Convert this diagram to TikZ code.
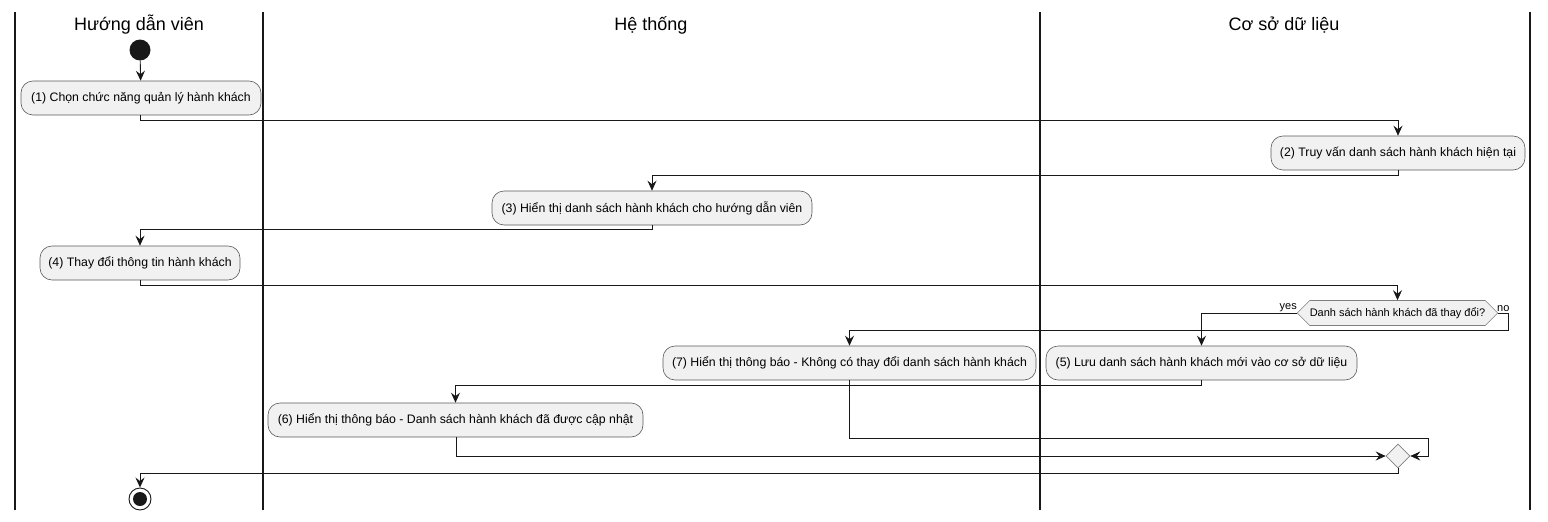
\documentclass[tikz,border=0pt]{standalone}
\usepackage{fontspec}
\setmainfont{Liberation Sans}
\usetikzlibrary{arrows.meta,shapes.geometric,shapes.symbols,calc}
\definecolor{nodefill}{HTML}{F1F1F1}
\definecolor{linec}{HTML}{181818}
\definecolor{bordc}{HTML}{5A5A5A}
\tikzset{
  act/.style={draw=bordc,fill=nodefill,rounded corners=12pt,minimum height=34pt,inner sep=0pt,font=\fontsize{12.3}{14}\selectfont,line width=0.6pt},
  lane/.style={draw=linec,line width=1.6pt},
  lanetitle/.style={font=\fontsize{18}{21}\selectfont,inner sep=0pt},
  arr/.style={draw=linec,line width=0.9pt,-{Stealth[length=10pt,width=9pt,inset=3.5pt]}},
  ln/.style={draw=linec,line width=0.9pt},
  decision/.style={draw=gray,fill=nodefill,signal,signal to=west and east,signal pointer angle=90,minimum height=25pt,inner sep=0pt,font=\fontsize{11}{13}\selectfont,line width=0.6pt},
  merge/.style={draw=gray,fill=nodefill,diamond,minimum size=24pt,inner sep=0pt,line width=0.6pt},
  small/.style={font=\fontsize{11}{13}\selectfont,inner sep=0pt}
}
\begin{document}
\begin{tikzpicture}[x=1pt,y=-1pt]
\useasboundingbox (0,0) rectangle (1548,522);
% swimlanes
\draw[lane] (15,12) -- (15,510);
\draw[lane] (263,12) -- (263,510);
\draw[lane] (1040,12) -- (1040,510);
\draw[lane] (1530,12) -- (1530,510);
\node[lanetitle] (t1) at (139,25) {Hướng dẫn viên};
\node[lanetitle] (t2) at (651,25) {Hệ thống};
\node[lanetitle] (t3) at (1284,25) {Cơ sở dữ liệu};
% nodes
\node[circle,fill=linec,minimum size=21pt,inner sep=0pt] (start) at (140,50) {};
\node[act,minimum width=240pt] (n1) at (141,98) {(1) Chọn chức năng quản lý hành khách};
\node[act,minimum width=254pt] (n2) at (1398,153) {(2) Truy vấn danh sách hành khách hiện tại};
\node[act,minimum width=320pt] (n3) at (652,208) {(3) Hiển thị danh sách hành khách cho hướng dẫn viên};
\node[act,minimum width=200pt] (n4) at (140,263) {(4) Thay đổi thông tin hành khách};
\node[decision,minimum width=199pt] (d) at (1397.5,313) {Danh sách hành khách đã thay đổi?};
\node[small,anchor=south east] (yes) at (1297,312) {yes};
\node[small,anchor=south west] (no) at (1497,312) {no};
\node[act,minimum width=311pt] (n5) at (1201.5,363) {(5) Lưu danh sách hành khách mới vào cơ sở dữ liệu};
\node[act,minimum width=373pt] (n7) at (849.5,363) {(7) Hiển thị thông báo - Không có thay đổi danh sách hành khách};
\node[act,minimum width=375pt] (n6) at (455.5,420) {(6) Hiển thị thông báo - Danh sách hành khách đã được cập nhật};
\node[merge] (m) at (1398,456) {};
\node[circle,draw=linec,line width=0.9pt,fill=white,minimum size=22pt,inner sep=0pt] (end) at (140,499) {};
\node[circle,fill=linec,minimum size=14pt,inner sep=0pt] (endin) at (end) {};
% helper coordinates
\coordinate (c1) at (140,120);
\coordinate (c2) at (1398,175);
\coordinate (c3) at (652,229);
\coordinate (c4) at (140,285);
\coordinate (cn1) at (1508,313);
\coordinate (cn2) at (1508,330);
\coordinate (c5) at (1201,385);
\coordinate (c7a) at (849,438);
\coordinate (c7b) at (1428,438);
\coordinate (c7c) at (1428,456);
\coordinate (c6) at (456,456);
\coordinate (cm) at (1398,473);
% connectors
\draw[arr] (start) -- (n1);
\draw[arr] (n1.south -| c1) -- (c1) -| (n2.north);
\draw[arr] (n2.south) -- (c2) -| (n3.north);
\draw[arr] (n3.south) -- (c3) -| (n4.north);
\draw[arr] (n4.south) -- (c4) -| (d.north);
\draw[arr] (d.west) -| (n5.north);
\draw[arr] (d.east) -- (cn1) -- (cn2) -| (n7.north);
\draw[arr] (n5.south -| c5) -- (c5) -| (n6.north);
\draw[arr] (n7.south -| c7a) -- (c7a) -- (c7b) -- (c7c) -- (m.east);
\draw[arr] (n6.south -| c6) -- (c6) -- (m.west);
\draw[arr] (m.south) -- (cm) -| (end.north);
\end{tikzpicture}
\end{document}
